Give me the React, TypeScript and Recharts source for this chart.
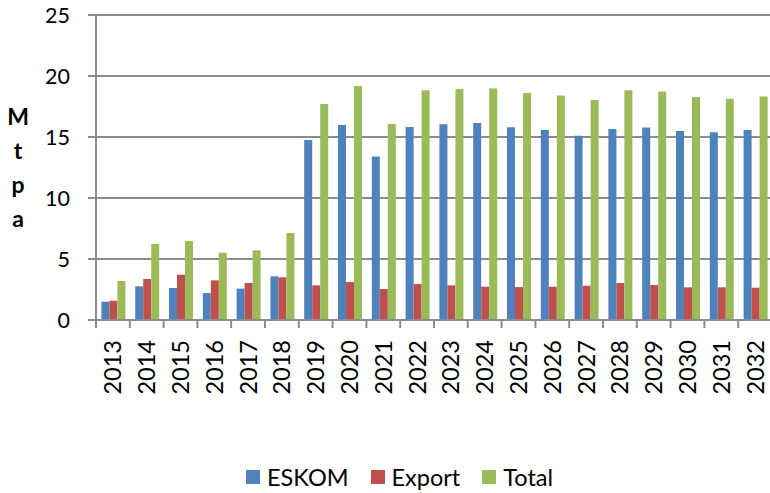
import React from 'react';
import { BarChart, Bar, XAxis, YAxis, CartesianGrid, Legend } from 'recharts';

const years = ['2013', '2014', '2015', '2016', '2017', '2018', '2019', '2020', '2021', '2022', '2023', '2024', '2025', '2026', '2027', '2028', '2029', '2030', '2031', '2032'];
const eskom = [1.5, 2.76, 2.62, 2.21, 2.57, 3.58, 14.75, 15.98, 13.41, 15.82, 16.04, 16.15, 15.79, 15.57, 15.11, 15.66, 15.77, 15.49, 15.38, 15.57];
const exportVals = [1.58, 3.36, 3.71, 3.25, 3.03, 3.5, 2.84, 3.11, 2.54, 2.95, 2.84, 2.73, 2.7, 2.73, 2.81, 3.03, 2.87, 2.68, 2.68, 2.65];
const total = [3.2, 6.23, 6.48, 5.52, 5.71, 7.13, 17.7, 19.18, 16.07, 18.83, 18.93, 18.97, 18.6, 18.4, 18.03, 18.83, 18.72, 18.28, 18.14, 18.31];
const yTicks = [0, 5, 10, 15, 20, 25];
const yLabelLetters = ['M', 't', 'p', 'a'];
const seriesNames = ['ESKOM', 'Export', 'Total'];
const colors = ['#4F81BD', '#C0504D', '#9BBB59'];

const data = years.map((year, i) => ({ year, ESKOM: eskom[i], Export: exportVals[i], Total: total[i] }));

const GRID = '#8c8c8c';
const FONT = 'Lato, "Open Sans", sans-serif';

const YearTick = (props: any) => {
  const { x, y, payload, index } = props;
  const half = payload && payload.offset ? payload.offset : 16.9;
  const ty = y + 20;
  return (
    <g>
      <line x1={x - half} x2={x - half} y1={y} y2={y + 8} stroke={GRID} strokeWidth={2} />
      {index === years.length - 1 && (
        <line x1={x + half} x2={x + half} y1={y} y2={y + 8} stroke={GRID} strokeWidth={2} />
      )}
      <text
        x={x}
        y={ty}
        transform={`rotate(-90 ${x} ${ty})`}
        textAnchor="end"
        dy="0.36em"
        fontSize={23.5}
        fontFamily={FONT}
        fill="#000"
      >
        {payload.value}
      </text>
    </g>
  );
};

const YLabel = () => (
  <g>
    {yLabelLetters.map((ch, i) => (
      <text
        key={ch}
        x={18}
        y={125 + i * 34}
        textAnchor="middle"
        fontSize={23}
        fontWeight="bold"
        fontFamily={FONT}
        fill="#000"
      >
        {ch}
      </text>
    ))}
  </g>
);

const LegendContent = () => (
  <div style={{ height: 30, display: 'flex', alignItems: 'center', paddingLeft: 246, fontFamily: FONT, fontSize: 23.5, color: '#000' }}>
    {seriesNames.map((name, i) => (
      <div key={name} style={{ display: 'flex', alignItems: 'center', marginRight: 22 }}>
        <div style={{ width: 14, height: 14, background: colors[i], marginRight: 7 }} />
        <span style={{ lineHeight: '30px' }}>{name}</span>
      </div>
    ))}
  </div>
);

export default function App() {
  return (
    <div style={{ position: 'absolute', left: 0, top: 0, width: 770, height: 493, overflow: 'hidden', background: '#fff', fontFamily: FONT }}>
      <BarChart
        width={772}
        height={493}
        data={data}
        margin={{ top: 15, right: 0, left: 0, bottom: 0 }}
        barCategoryGap="16%"
        barGap={0}
      >
        <CartesianGrid vertical={false} stroke={GRID} strokeWidth={2} />
        <XAxis
          dataKey="year"
          height={143}
          interval={0}
          tickSize={0}
          tickMargin={0}
          tickLine={false}
          axisLine={{ stroke: GRID, strokeWidth: 2 }}
          tick={<YearTick />}
        />
        <YAxis
          width={96}
          domain={[0, 25]}
          ticks={yTicks}
          interval={0}
          tickSize={8}
          tickMargin={18}
          axisLine={{ stroke: GRID, strokeWidth: 2 }}
          tickLine={{ stroke: GRID, strokeWidth: 2 }}
          tick={{ fontSize: 21.5, fontFamily: FONT, fill: '#000' }}
          label={{ content: <YLabel /> }}
        />
        <Legend verticalAlign="bottom" height={30} wrapperStyle={{ bottom: 1, left: 0, width: 770 }} content={<LegendContent />} />
        {seriesNames.map((name, i) => (
          <Bar key={name} dataKey={name} fill={colors[i]} isAnimationActive={false} />
        ))}
      </BarChart>
    </div>
  );
}
